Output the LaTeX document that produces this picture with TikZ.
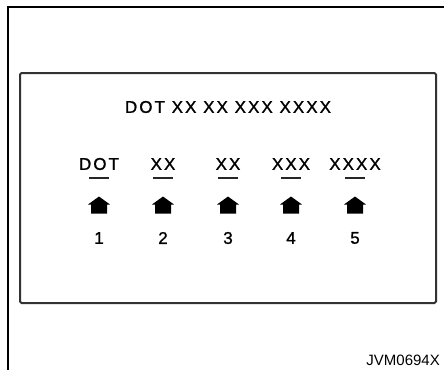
\documentclass[tikz,border=0pt]{standalone}
\usepackage{fontspec}
\setmainfont{Liberation Sans}
\newfontfamily\pixfont[LetterSpace=12, FakeBold=1.2]{Liberation Sans}
\tikzset{
  frame/.style={line width=1.2pt, draw=black},
  panel/.style={line width=2pt, draw=black!80, rounded corners=1.5pt},
  paneltext/.style={font=\pixfont\fontsize{17}{19}\selectfont, inner sep=0pt},
  ulbar/.style={line width=2pt, draw=black!85},
  uparrow/.pic={
    \fill[black] (0,-8.5) -- (11,-0.5) -- (8,-0.5) -- (8,8.5)
                 -- (-8,8.5) -- (-8,-0.5) -- (-11,-0.5) -- cycle;
  },
  refcode/.style={font=\fontsize{15}{17}\selectfont, inner sep=0pt},
}

\begin{document}
\begin{tikzpicture}[x=1pt, y=-1pt]
    \useasboundingbox (0,0) rectangle (444,370);
    % Frame and panel
    \draw[frame] (8,370) -- (8,7) -- (444,7);
    \draw[panel] (20,73) rectangle (436,303);
    \node[paneltext] (title) at (228,107) {DOT XX XX XXX XXXX};
    % Labels
    \node[paneltext] (l1) at (99,164)  {DOT};
    \node[paneltext] (l2) at (163,164) {XX};
    \node[paneltext] (l3) at (228,164) {XX};
    \node[paneltext] (l4) at (291,164) {XXX};
    \node[paneltext] (l5) at (355,164) {XXXX};
    \draw[ulbar] ([xshift=-10pt,yshift=-8pt]l1.south) -- ([xshift=10pt,yshift=-8pt]l1.south);
    \draw[ulbar] ([xshift=-10pt,yshift=-8pt]l2.south) -- ([xshift=10pt,yshift=-8pt]l2.south);
    \draw[ulbar] ([xshift=-10pt,yshift=-8pt]l3.south) -- ([xshift=10pt,yshift=-8pt]l3.south);
    \draw[ulbar] ([xshift=-10pt,yshift=-8pt]l4.south) -- ([xshift=10pt,yshift=-8pt]l4.south);
    \draw[ulbar] ([xshift=-10pt,yshift=-8pt]l5.south) -- ([xshift=10pt,yshift=-8pt]l5.south);
    % Arrows
    \pic (a1) at (99,205)  {uparrow};
    \pic (a2) at (163,205) {uparrow};
    \pic (a3) at (228,205) {uparrow};
    \pic (a4) at (291,205) {uparrow};
    \pic (a5) at (355,205) {uparrow};
    % Numbers
    \node[paneltext] (n1) at (99,238)  {1};
    \node[paneltext] (n2) at (163,238) {2};
    \node[paneltext] (n3) at (228,238) {3};
    \node[paneltext] (n4) at (291,238) {4};
    \node[paneltext] (n5) at (355,238) {5};
    \node[refcode, anchor=base east] (code) at (440,365) {JVM0694X};
  \end{tikzpicture}
\end{document}
